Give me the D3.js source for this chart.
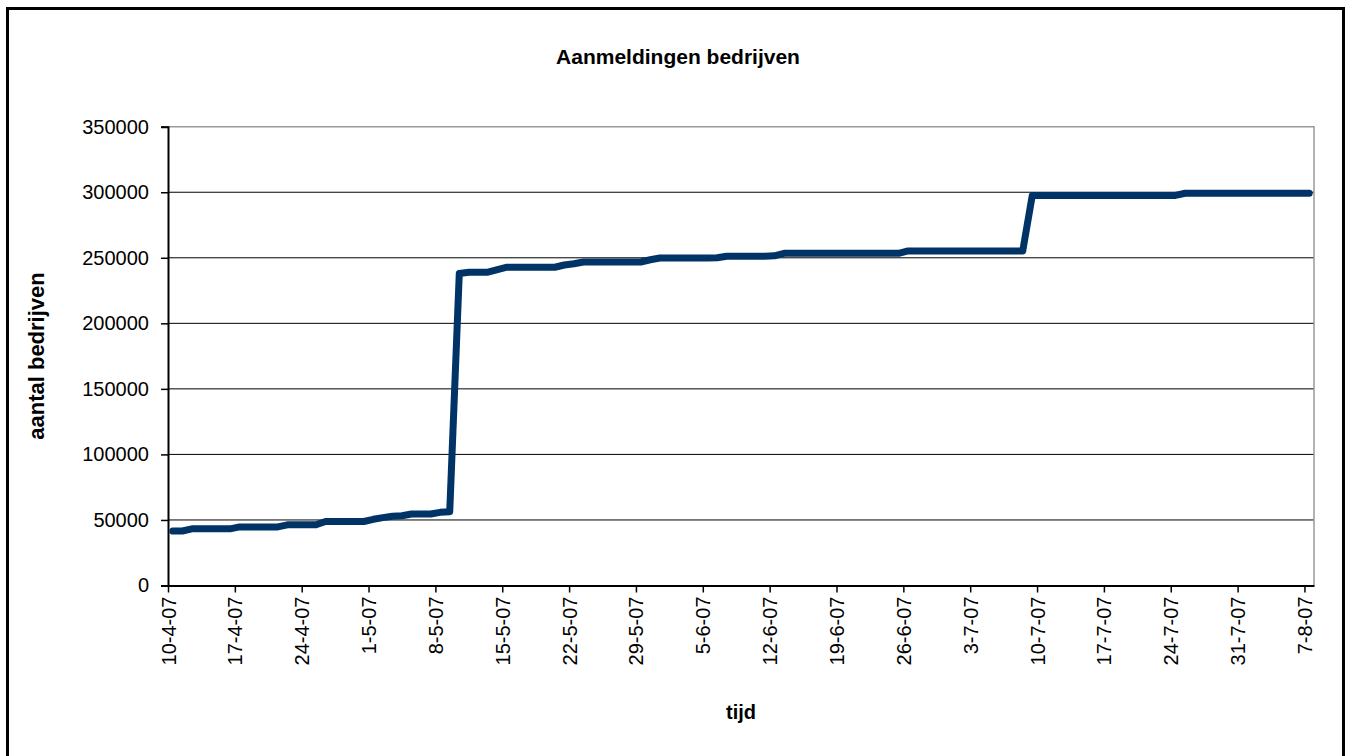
<!DOCTYPE html>
<html><head><meta charset="utf-8">
<script src="https://cdn.jsdelivr.net/npm/d3@7"></script>
<style>body{margin:0;background:#fff}svg{display:block}text{font-family:"Liberation Sans",Arial,sans-serif}</style>
</head><body><svg id="c" width="1348" height="756"></svg>
<script>
const title = "Aanmeldingen bedrijven";
const yTitle = "aantal bedrijven";
const xTitle = "tijd";
const startDate = "2007-04-10";
const endDate = "2007-08-08";
// one value per day, 10-4-07 .. 7-8-07
const values = [
 41500, 41600, 43200, 43200, 43200, 43200, 43200,
 44700, 44700, 44700, 44700, 44700, 46300, 46300,
 46300, 46300, 48800, 48800, 48800, 48800, 48800,
 50500, 51800, 52800, 53200, 54500, 54500, 54500,
 55800, 56300, 238000, 239000, 239000, 239000, 241000,
 242800, 242800, 242800, 242800, 242800, 242800, 244500,
 245500, 246800, 246800, 246800, 246800, 246800, 246800,
 246800, 248500, 249800, 249800, 249800, 249800, 249800,
 249800, 250000, 251200, 251200, 251200, 251200, 251200,
 251500, 253400, 253400, 253400, 253400, 253400, 253400,
 253400, 253400, 253400, 253400, 253400, 253400, 253400,
 255200, 255200, 255200, 255200, 255200, 255200, 255200,
 255200, 255200, 255200, 255200, 255200, 255200,
 297600, 297600, 297600, 297600, 297600, 297600, 297600,
 297600, 297600, 297600, 297600, 297600, 297600, 297600,
 297600, 297600, 299200, 299200, 299200, 299200, 299200,
 299200, 299200, 299200, 299200, 299200, 299200, 299200,
 299200, 299200
];
const yTicks = [0, 50000, 100000, 150000, 200000, 250000, 300000, 350000];

const parse = d3.utcParse("%Y-%m-%d");
const d0 = parse(startDate), d1 = parse(endDate);
const data = values.map((v, i) => ({date: d3.utcDay.offset(d0, i), v}));
const xTickDates = d3.utcDay.range(d0, d1, 7);
const fmt = d => `${d.getUTCDate()}-${d.getUTCMonth()+1}-${String(d.getUTCFullYear()).slice(2)}`;

const L = 168, R = 1314, T = 126.7, B = 585.5;
const svg = d3.select("#c");
svg.append("rect").attr("x", 7.5).attr("y", 8.5).attr("width", 1336).attr("height", 760)
  .attr("fill", "#fff").attr("stroke", "#000").attr("stroke-width", 3);

const x = d3.scaleUtc().domain([d0, d1]).range([L, R]);
const y = d3.scaleLinear().domain([0, 350000]).range([B, T]);

// gridlines
svg.append("g").selectAll("line").data(yTicks.filter(t => t > 0 && t < 350000)).join("line")
  .attr("x1", L).attr("x2", R).attr("y1", d => y(d)).attr("y2", d => y(d))
  .attr("stroke", "#000").attr("stroke-width", 1);
// plot border top/right grey
svg.append("path").attr("d", `M${L},${T}H${R}V${B}`).attr("fill", "none")
  .attr("stroke", "#9a9a9a").attr("stroke-width", 1.5);

// y axis
const ya = svg.append("g").attr("transform", `translate(${L},0)`)
  .call(d3.axisLeft(y).tickValues(yTicks).tickFormat(d3.format("d")).tickSize(7).tickPadding(12));
ya.select(".domain").attr("stroke", "#000").attr("stroke-width", 2);
ya.selectAll(".tick line").attr("stroke", "#000").attr("stroke-width", 1.5);
ya.selectAll("text").attr("font-size", 20).attr("fill", "#000").attr("font-family", "Liberation Sans, Arial, sans-serif");

// x axis
const xa = svg.append("g").attr("transform", `translate(0,${B})`)
  .call(d3.axisBottom(x).tickValues(xTickDates).tickFormat(fmt).tickSize(7).tickSizeOuter(0));
xa.select(".domain").attr("stroke", "#000").attr("stroke-width", 2);
xa.selectAll(".tick line").attr("stroke", "#000").attr("stroke-width", 1.5);
xa.selectAll("text").attr("font-size", 20).attr("fill", "#000")
  .attr("font-family", "Liberation Sans, Arial, sans-serif")
  .attr("transform", "rotate(-90)").attr("text-anchor", "end")
  .attr("x", -11).attr("y", 0).attr("dy", "0.35em");

// line: points centred in each day
const line = d3.line().x(d => x(d3.utcHour.offset(d.date, 12))).y(d => y(d.v));
svg.append("path").datum(data).attr("d", line).attr("fill", "none")
  .attr("stroke", "#003366").attr("stroke-width", 7)
  .attr("stroke-linejoin", "round").attr("stroke-linecap", "round");

// titles
svg.append("text").attr("x", 678).attr("y", 64).attr("text-anchor", "middle")
  .attr("font-size", 21).attr("font-weight", "bold").text(title);
svg.append("text").attr("transform", `translate(44,356) rotate(-90)`).attr("text-anchor", "middle")
  .attr("font-size", 22).attr("font-weight", "bold").text(yTitle);
svg.append("text").attr("x", 741).attr("y", 719).attr("text-anchor", "middle")
  .attr("font-size", 20).attr("font-weight", "bold").text(xTitle);
</script></body></html>
